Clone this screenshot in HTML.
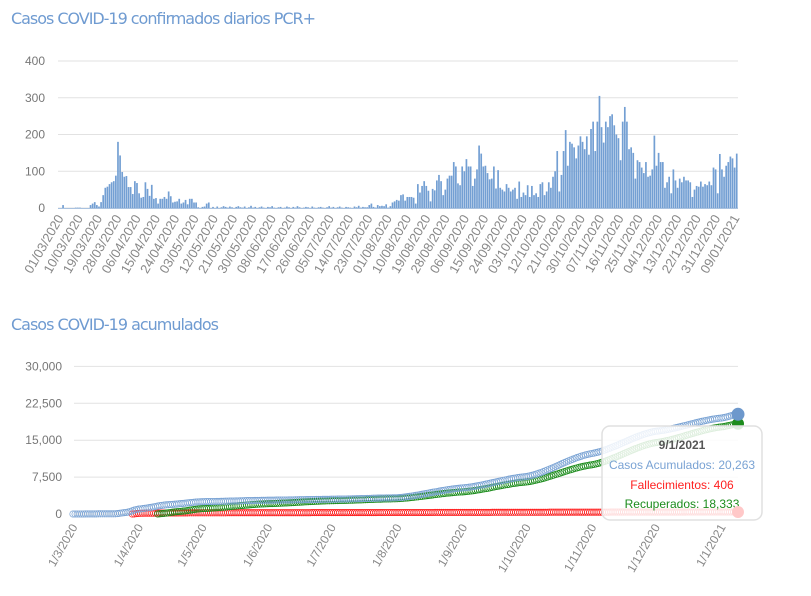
<!DOCTYPE html>
<html><head><meta charset="utf-8"><style>
body{margin:0;background:#fff;width:811px;height:596px;overflow:hidden;font-family:"Liberation Sans",sans-serif}
svg{position:absolute;left:0;top:0}
</style></head><body>
<svg id="s" width="811" height="596" xmlns="http://www.w3.org/2000/svg">
<text x="11" y="24" font-size="16" fill="#6f9bd1" font-family="DejaVu Sans, sans-serif" textLength="305">Casos COVID-19 confirmados diarios PCR+</text>
<text x="11" y="330" font-size="16" fill="#6f9bd1" font-family="DejaVu Sans, sans-serif" textLength="208">Casos COVID-19 acumulados</text>
<g id="g"></g>
</svg>
<script>
var g=document.getElementById('g'),h='';
var t=[0,100,200,300,400];
t.forEach(function(v){var y=208-v*0.3675;h+='<line x1="58" x2="738" y1="'+y+'" y2="'+y+'" stroke="#e2e2e2" stroke-width="1"/>';h+='<text x="45" y="'+(y+4)+'" text-anchor="end" font-size="12" fill="#777">'+v+'</text>';});
var L=[0,0,8,0,0,0,0,0,1,1,1,0,0,0,0,8,12,16,8,4,16,35,55,58,65,70,73,88,180,143,98,85,87,57,57,38,73,68,40,28,30,70,52,33,63,25,27,12,25,25,30,25,45,32,15,17,18,25,12,15,22,10,25,25,15,15,2,0,3,4,12,15,0,3,0];
var sm=[4,0,2,5,3,1,4,2,0,3,5,2,1,4,0,2,6,1,3,0,2,4,1,0,3,2,5,1,0,2,3,0,1,4,2,0,3,1,5,2,0,1,3,2,0,4,1,0,2,3,1,0,2,5,1,3,0,2,4,1,0,3,2,1,0,4,2,6,1,3,2];
L=L.concat(sm,[2,8,12,3,1,8,5,6,5,10,1,5,15]);
var R=[18,22,20,35,37,20,30,30,30,28,12,65,42,60,73,60,47,18,52,48,75,90,73,35,50,80,88,88,125,113,67,62,113,100,133,113,113,60,80,105,170,148,113,115,95,78,80,113,53,103,55,50,45,65,55,45,50,55,25,72,30,42,35,62,30,60,35,40,30,65,70,35,45,70,55,85,100,155,45,90,155,212,115,180,175,165,135,170,195,180,160,195,145,215,235,155,235,305,220,178,235,220,250,255,225,200,190,130,235,275,235,160,165,150,80,130,125,110,95,125,85,88,105,197,115,150,125,125,55,70,85,40,105,75,55,80,70,85,75,75,70,30,50,60,58,72,58,65,62,72,62,110,105,40,147,105,85,115,125,140,135,110,148];
var B=L.concat(R),n=B.length,w=680/n;
B.forEach(function(v,i){var hh=v*0.3675;h+='<rect x="'+(58+i*w).toFixed(2)+'" y="'+(208-hh).toFixed(2)+'" width="'+(w*0.8).toFixed(2)+'" height="'+hh.toFixed(2)+'" fill="#739fd3"/>';});
h+='<line x1="58" x2="738" y1="208.5" y2="208.5" stroke="#a9c2e0"/>';
var labs=['01/03/2020','10/03/2020','19/03/2020','28/03/2020','06/04/2020','15/04/2020','24/04/2020','03/05/2020','12/05/2020','21/05/2020','30/05/2020','08/06/2020','17/06/2020','26/06/2020','05/07/2020','14/07/2020','23/07/2020','01/08/2020','10/08/2020','19/08/2020','28/08/2020','06/09/2020','15/09/2020','24/09/2020','03/10/2020','12/10/2020','21/10/2020','30/10/2020','07/11/2020','16/11/2020','25/11/2020','04/12/2020','13/12/2020','22/12/2020','31/12/2020','09/01/2021'];
labs.forEach(function(s,k){var x=61+k*(676/35);h+='<text transform="translate('+(x+3)+',218) rotate(-60)" text-anchor="end" font-size="13" fill="#888">'+s+'</text>';});
[0,7500,15000,22500,30000].forEach(function(v){var y=514-v*36.9/7500;h+='<line x1="74" x2="738" y1="'+y+'" y2="'+y+'" stroke="#e2e2e2"/>';h+='<text x="62" y="'+(y+4)+'" text-anchor="end" font-size="12" fill="#777">'+v.toLocaleString('en-US')+'</text>';});
function X(d){return 73+d*(665/314);}
function Y(v){return 514-v*36.9/7500;}
function interp(k,d){for(var i=0;i<k.length-1;i++){if(d>=k[i][0]&&d<=k[i+1][0]){var f=(d-k[i][0])/(k[i+1][0]-k[i][0]);f=f*f*(3-2*f)*0.5+f*0.5;return k[i][1]+f*(k[i+1][1]-k[i][1]);}}return k[k.length-1][1];}
var C=[[0,0],[20,50],[25,300],[31,1000],[45,1900],[61,2500],[92,2800],[122,3000],[153,3300],[184,5300],[214,7600],[245,12300],[275,16800],[306,19500],[314,20263]];
var Rc=[[0,0],[40,0],[50,500],[61,1100],[92,2100],[122,2700],[153,3100],[184,4500],[214,6500],[245,10000],[275,14500],[306,17700],[314,18333]];
var D=[[0,0],[28,0],[32,150],[61,250],[314,406]];
function ser(k,col,start){var o='';for(var d=start;d<=314;d++){o+='<circle cx="'+X(d).toFixed(1)+'" cy="'+Y(interp(k,d)).toFixed(1)+'" r="3.2" fill="none" stroke="'+col+'" stroke-width="0.7"/>';}return o;}
h+=ser(D,'#ff2020',28)+ser(Rc,'#1c8c1c',40)+ser(C,'#7aa3d4',0);
h+='<circle cx="738" cy="'+Y(18333)+'" r="6" fill="#1c8c1c"/><circle cx="738" cy="'+Y(20263)+'" r="6.5" fill="#6d98cc"/>';
var mon=[[0,'1/3/2020'],[31,'1/4/2020'],[61,'1/5/2020'],[92,'1/6/2020'],[122,'1/7/2020'],[153,'1/8/2020'],[184,'1/9/2020'],[214,'1/10/2020'],[245,'1/11/2020'],[275,'1/12/2020'],[306,'1/1/2021']];
mon.forEach(function(m){var x=X(m[0]);h+='<text transform="translate('+(x+5)+',527) rotate(-60)" text-anchor="end" font-size="12" fill="#888">'+m[1]+'</text>';});
h+='<rect x="602" y="426" width="160" height="94" rx="8" fill="rgba(255,255,255,0.85)" stroke="#e0e0e0" stroke-width="1.5"/>';
h+='<text x="682" y="449" text-anchor="middle" font-size="12" font-weight="bold" fill="#555">9/1/2021</text>';
h+='<text x="682" y="469" text-anchor="middle" font-size="12" fill="#7aa3d4">Casos Acumulados: 20,263</text>';
h+='<text x="682" y="489" text-anchor="middle" font-size="12" fill="#ff2020">Fallecimientos: 406</text>';
h+='<text x="682" y="508" text-anchor="middle" font-size="12" fill="#1c8c1c">Recuperados: 18,333</text>';
h+='<circle cx="738" cy="512" r="6" fill="#ffc8c8"/>';
g.innerHTML=h;
</script>
</body></html>
